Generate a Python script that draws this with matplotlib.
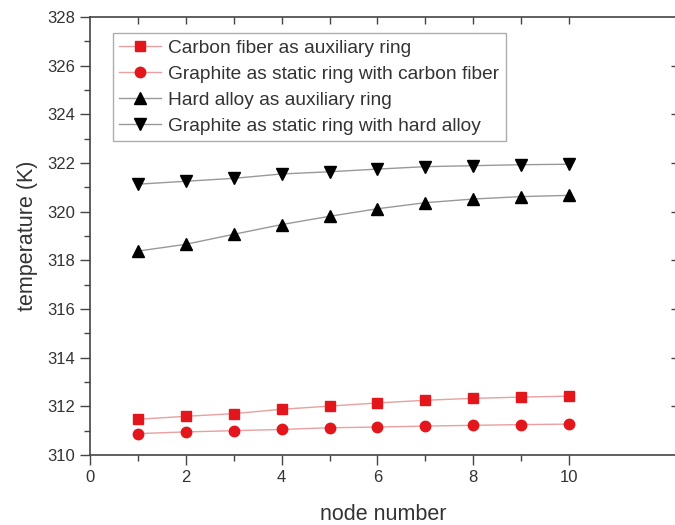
import matplotlib
matplotlib.use('Agg')
import matplotlib.pyplot as plt
from matplotlib.ticker import MultipleLocator, FixedLocator

plt.rcParams['font.family'] = ['Liberation Sans', 'DejaVu Sans']

# --- data ---
node = [1, 2, 3, 4, 5, 6, 7, 8, 9, 10]
carbon_aux = [311.47, 311.59, 311.70, 311.88, 312.01, 312.14, 312.25, 312.33, 312.38, 312.42]
graphite_carbon = [310.88, 310.95, 311.00, 311.05, 311.12, 311.15, 311.19, 311.22, 311.25, 311.27]
hard_aux = [318.38, 318.66, 319.07, 319.47, 319.81, 320.12, 320.37, 320.52, 320.62, 320.67]
graphite_hard = [321.13, 321.25, 321.37, 321.55, 321.64, 321.75, 321.85, 321.89, 321.93, 321.95]

labels = ['Carbon fiber as auxiliary ring',
          'Graphite as static ring with carbon fiber',
          'Hard alloy as auxiliary ring',
          'Graphite as static ring with hard alloy']

fig = plt.figure(figsize=(6.75, 5.25), dpi=100)
# right spine sits just off the canvas, as in the cropped original
ax = fig.add_axes([0.1333, 0.1333, 0.8696, 0.8343])

red = '#e3161c'
ax.plot(node, carbon_aux, color='#e8a0a0', lw=1, marker='s', ms=6.5,
        mfc=red, mec=red, label=labels[0])
ax.plot(node, graphite_carbon, color='#e8a0a0', lw=1, marker='o', ms=7.5,
        mfc=red, mec=red, label=labels[1])
ax.plot(node, hard_aux, color='#999999', lw=1, marker='^', ms=9,
        mfc='black', mec='black', label=labels[2])
ax.plot(node, graphite_hard, color='#999999', lw=1, marker='v', ms=9,
        mfc='black', mec='black', label=labels[3])

ax.set_xlim(0, 12.25)
ax.set_ylim(310, 328)
ax.set_xticks([0, 2, 4, 6, 8, 10])
ax.xaxis.set_minor_locator(FixedLocator([1, 3, 5, 7, 9]))
ax.yaxis.set_major_locator(MultipleLocator(2))
ax.yaxis.set_minor_locator(MultipleLocator(1))

txt = '#333333'
tick_col = '#444444'
ax.tick_params(axis='both', which='both', direction='out', colors=tick_col,
               labelcolor=txt, labelsize=12, pad=3.5)
ax.tick_params(which='major', length=7, width=1)
ax.tick_params(which='minor', length=4, width=1)
for s in ax.spines.values():
    s.set_color(tick_col)
    s.set_linewidth(1.2)

# mirrored ticks point inward on top and right
top = ax.secondary_xaxis('top')
top.set_xticks(node)
top.tick_params(direction='in', length=5, width=1, colors=tick_col, labeltop=False)
top.spines['top'].set_visible(False)
right = ax.secondary_yaxis('right')
right.set_yticks([312, 314, 316, 318, 320, 322, 324, 326])
right.tick_params(direction='in', length=4, width=1, colors=tick_col, labelright=False)
right.spines['right'].set_visible(False)

ax.set_xlabel('node number', fontsize=15.5, color=txt, labelpad=14)
ax.set_ylabel('temperature (K)', fontsize=15.5, color=txt, labelpad=7)

leg = ax.legend(loc='upper left', bbox_to_anchor=(0.039, 0.9635), fontsize=13.8,
                frameon=True, fancybox=False, edgecolor='#999999',
                handlelength=2.2, handletextpad=0.37, borderpad=0.32,
                labelspacing=0.45, borderaxespad=0)
leg.get_frame().set_linewidth(1.0)
for t in leg.get_texts():
    t.set_color(txt)

fig.savefig('out.png', dpi=100)
